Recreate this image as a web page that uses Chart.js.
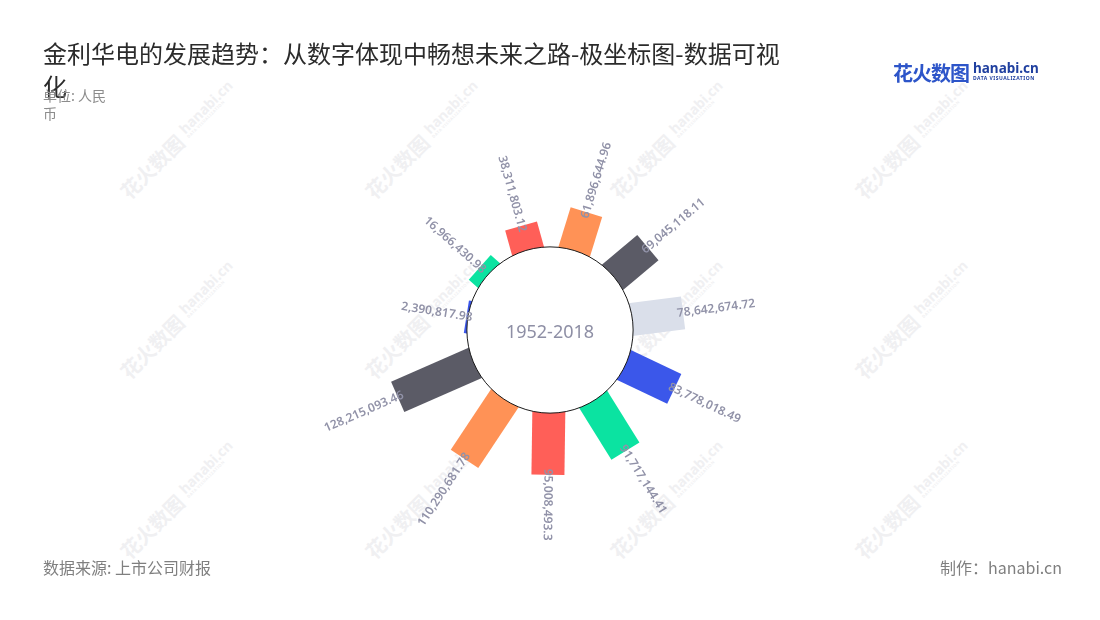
<!DOCTYPE html>
<html lang="zh">
<head>
<meta charset="utf-8">
<title>金利华电的发展趋势</title>
<script src="https://cdn.jsdelivr.net/npm/chart.js@4.4.1/dist/chart.umd.min.js"></script>
<style>
    html, body { margin: 0; padding: 0; background: #fff; }
    body {
        width: 1100px; height: 620px; position: relative; overflow: hidden;
        font-family: "Noto Sans CJK SC", "Noto Sans", sans-serif;
    }
    #chartBox { position: absolute; left: 0; top: 0; width: 1100px; height: 620px; z-index: 1; }
    .wm { position: absolute; z-index: 0; transform: translate(-50%, -50%) rotate(-45deg); white-space: nowrap; color: #f0f0f2; }
    .wm .cn { font-size: 20px; font-weight: bold; }
    .wm .en { display: inline-block; vertical-align: 2px; margin-left: 6px; font-family: "Noto Sans", sans-serif; font-weight: bold; font-size: 14px; line-height: 12px; }
    .wm .en small { display: block; font-size: 4px; line-height: 5px; letter-spacing: 0.5px; }
    .title { position: absolute; left: 43px; top: 36px; width: 750px; font-size: 24px; line-height: 33px; color: #2b2b2b; z-index: 2; }
    .unit { position: absolute; left: 43px; top: 86px; width: 70px; font-size: 14px; line-height: 18px; color: #8c8c8c; z-index: 3; }
    .logo { position: absolute; left: 893px; top: 58px; z-index: 2; white-space: nowrap; }
    .logo .cn { font-size: 20px; font-weight: bold; color: #2d55c9; letter-spacing: -1px; }
    .logo .en { display: inline-block; vertical-align: 1px; margin-left: 4px; font-family: "Noto Sans", sans-serif; font-weight: bold; font-size: 13.5px; line-height: 13px; color: #1f3f9f; }
    .logo .en small { display: block; font-size: 5px; line-height: 6px; letter-spacing: 0.5px; color: #1f3f9f; }
    .source { position: absolute; left: 43px; top: 555px; font-size: 16px; color: #7f7f7f; z-index: 2; }
    .maker { position: absolute; right: 38px; top: 555px; font-size: 16px; color: #7f7f7f; z-index: 2; }
</style>
</head>
<body>
<div id="wmLayer"></div>
<div class="title">金利华电的发展趋势：从数字体现中畅想未来之路-极坐标图-数据可视化</div>
<div class="unit">单位: 人民币</div>
<div class="logo"><span class="cn">花火数图</span><span class="en">hanabi.cn<small>DATA VISUALIZATION</small></span></div>
<div class="source">数据来源: 上市公司财报</div>
<div class="maker">制作：hanabi.cn</div>
<div id="chartBox"><canvas id="polarChart" width="1100" height="620"></canvas></div>

<script>
    // Data, sorted clockwise from the small blue bar on the left
    const categories = ["1", "2", "3", "4", "5", "6", "7", "8", "9", "10", "11"];
    const revenue = [2390817.98, 16966430.98, 38311803.12, 61896644.96, 69045118.11,
        78642674.72, 83778018.49, 91717144.41, 95008493.3, 110290681.78, 128215093.46];
    const barColors = ["#3b57ea", "#0be3a1", "#ff5f58", "#ff9256", "#5b5b66", "#dadfea"];
    const centerLabel = "1952-2018";

    const BAR_WIDTH = 33;

    // watermark tiles
    const wmLayer = document.getElementById("wmLayer");
    [140, 320, 500].forEach(y => {
        [178, 423, 668, 913].forEach(x => {
            const d = document.createElement("div");
            d.className = "wm";
            d.style.left = x + "px";
            d.style.top = y + "px";
            d.innerHTML = '<span class="cn">花火数图</span><span class="en">hanabi.cn<small>DATA VISUALIZATION</small></span>';
            wmLayer.appendChild(d);
        });
    });

    function formatValue(v) {
        return v.toLocaleString("en-US", { maximumFractionDigits: 2 });
    }

    // Draws each value as a radial rectangle starting at the inner circle
    const polarBars = {
        id: "polarBars",
        afterDatasetsDraw(chart) {
            const scale = chart.scales.r;
            const meta = chart.getDatasetMeta(0);
            const ctx = chart.ctx;
            const cx = scale.xCenter;
            const cy = scale.yCenter;
            const r0 = scale.getDistanceFromCenterForValue(0);

            const ends = meta.data.map(pt => {
                const dx = pt.x - cx, dy = pt.y - cy;
                return { r: Math.sqrt(dx * dx + dy * dy), a: Math.atan2(dy, dx) };
            });

            ctx.save();
            ends.forEach((e, i) => {
                ctx.save();
                ctx.translate(cx, cy);
                ctx.rotate(e.a);
                ctx.fillStyle = barColors[i % barColors.length];
                ctx.fillRect(r0 - 12, -BAR_WIDTH / 2, e.r - r0 + 12, BAR_WIDTH);
                ctx.restore();
            });

            // inner circle
            ctx.beginPath();
            ctx.arc(cx, cy, r0, 0, Math.PI * 2);
            ctx.fillStyle = "#fff";
            ctx.fill();
            ctx.lineWidth = 1;
            ctx.strokeStyle = "#1a1a1a";
            ctx.stroke();

            ctx.fillStyle = "#8e8fa5";
            ctx.font = "18px 'Noto Sans', sans-serif";
            ctx.textAlign = "center";
            ctx.textBaseline = "middle";
            ctx.fillText(centerLabel, cx, cy + 3);

            // value labels along the bar direction
            ctx.font = "600 12px 'Noto Sans', sans-serif";
            ctx.fillStyle = "#9192a8";
            ctx.textBaseline = "middle";
            ends.forEach((e, i) => {
                const d = e.r - 6;
                const x = cx + Math.cos(e.a) * d;
                const y = cy + Math.sin(e.a) * d;
                const leftSide = e.a > Math.PI / 2 + 0.05 || e.a < -Math.PI / 2;
                ctx.save();
                ctx.translate(x, y);
                ctx.rotate(leftSide ? e.a + Math.PI : e.a);
                ctx.textAlign = leftSide ? "right" : "left";
                ctx.fillText(formatValue(revenue[i]), 0, 0);
                ctx.restore();
            });
            ctx.restore();
        }
    };

    const ctx = document.getElementById("polarChart").getContext("2d");
    new Chart(ctx, {
        type: "radar",
        data: {
            labels: categories,
            datasets: [{
                data: revenue,
                showLine: false,
                fill: false,
                borderWidth: 0,
                backgroundColor: "rgba(0,0,0,0)",
                pointRadius: 0,
                pointHoverRadius: 0
            }]
        },
        options: {
            responsive: false,
            animation: false,
            events: [],
            layout: { padding: { left: 350, right: 350, top: 130, bottom: 90 } },
            plugins: { legend: { display: false }, tooltip: { enabled: false } },
            scales: {
                r: {
                    min: -128000000,
                    max: 180000000,
                    startAngle: -81,
                    grid: { display: false },
                    angleLines: { display: false },
                    pointLabels: { display: false },
                    ticks: { display: false }
                }
            }
        },
        plugins: [polarBars]
    });
</script>
</body>
</html>
